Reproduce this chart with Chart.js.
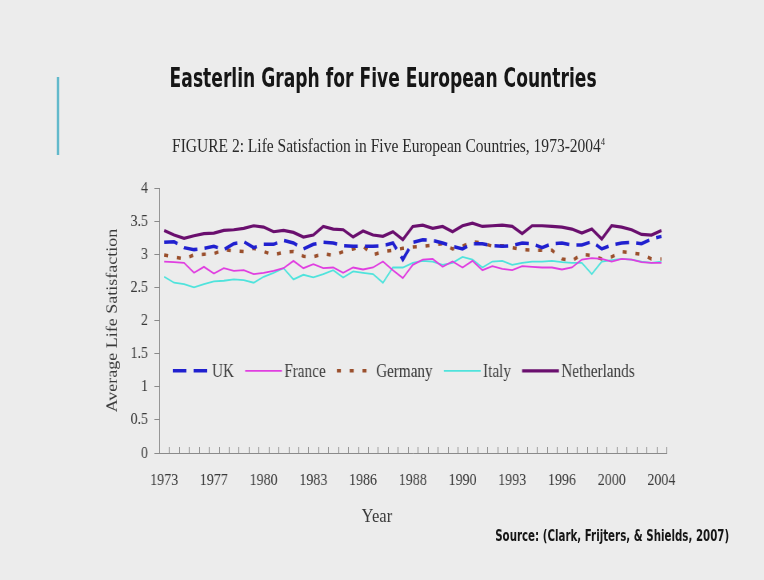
<!DOCTYPE html>
<html>
<head>
<meta charset="utf-8">
<script src="https://cdn.jsdelivr.net/npm/chart.js@4.4.1/dist/chart.umd.min.js"></script>
<style>
  html, body { margin: 0; padding: 0; background: #ececec; width: 764px; height: 580px; overflow: hidden; }
  /* the slide is laid out on a wider sheet and squeezed horizontally */
  #slide { position: absolute; left: 0; top: 0; width: 955px; height: 580px; transform: scaleX(0.8); transform-origin: 0 0; }
  #accent { position: absolute; left: 71px; top: 77px; width: 3px; height: 78px; background: #62b9cb; }
  .txt { position: absolute; white-space: nowrap; line-height: 1; }
  #title { top: 63px; font: bold 26px "DejaVu Sans Condensed", "DejaVu Sans"; color: #161616; }
  #subtitle { top: 136px; font: 18px "Liberation Serif"; color: #2a2a2a; }
  #subtitle span { font-size: 10px; position: relative; top: -7px; }
  #xtitle { top: 506px; font: 18px "Liberation Serif"; color: #3a3a3a; }
  #source { top: 527px; font: bold 15px "DejaVu Sans Condensed", "DejaVu Sans"; color: #161616; }
  canvas { position: absolute; left: 0; top: 0; }
</style>
</head>
<body>
<div id="slide">
  <div id="accent"></div>
  <div id="title" class="txt">Easterlin Graph for Five European Countries</div>
  <div id="subtitle" class="txt">FIGURE 2: Life Satisfaction in Five European Countries, 1973-2004<span>4</span></div>
  <canvas id="chart" width="955" height="580" style="width:955px;height:580px"></canvas>
  <div id="xtitle" class="txt">Year</div>
  <div id="source" class="txt">Source: (Clark, Frijters, &amp; Shields, 2007)</div>
</div>
<script>
// Survey waves (one category per wave); only every fifth wave is labelled.
const waveYears = [
  '1973','1973','1974','1975','1976','1977','1977','1978','1978','1979',
  '1980','1980','1981','1981','1982','1983','1983','1984','1984','1985',
  '1986','1986','1987','1987','1987','1988','1988','1989','1989','1989',
  '1990','1990','1991','1991','1992','1993','1993','1994','1994','1995',
  '1996','1997','1998','1998','1999','2000','2001','2002','2002','2003',
  '2004'
];
const labelEvery = 5;
const yTickValues = [0, 0.5, 1, 1.5, 2, 2.5, 3, 3.5, 4];

const uk = [
  3.18,3.19,3.10,3.07,3.09,3.12,3.07,3.16,3.19,3.10,
  3.15,3.15,3.21,3.17,3.08,3.15,3.18,3.17,3.13,3.12,
  3.12,3.12,3.13,3.17,2.92,3.18,3.22,3.21,3.17,3.12,
  3.08,3.16,3.16,3.13,3.12,3.13,3.17,3.16,3.10,3.16,
  3.17,3.14,3.14,3.19,3.08,3.14,3.17,3.18,3.16,3.23,
  3.27
];
const france = [
  2.89,2.88,2.87,2.72,2.81,2.71,2.79,2.75,2.76,2.70,
  2.72,2.75,2.79,2.90,2.79,2.85,2.79,2.80,2.72,2.80,
  2.77,2.80,2.89,2.76,2.64,2.84,2.92,2.93,2.81,2.89,
  2.80,2.90,2.76,2.82,2.78,2.76,2.82,2.81,2.80,2.80,
  2.77,2.80,2.92,2.94,2.93,2.89,2.93,2.92,2.88,2.87,
  2.87
];
const germany = [
  2.99,2.96,2.93,2.99,3.00,3.01,3.07,3.05,3.04,3.09,
  3.04,2.99,3.03,3.04,2.97,2.96,3.01,2.98,3.04,3.08,
  3.12,2.99,3.04,3.06,3.09,3.11,3.12,3.14,3.16,3.08,
  3.12,3.19,3.17,3.12,3.13,3.10,3.07,3.06,3.06,3.06,
  2.93,2.90,3.00,2.98,2.93,2.96,3.04,3.02,3.00,2.93,
  2.93
];
const italy = [
  2.66,2.57,2.55,2.50,2.55,2.59,2.60,2.62,2.61,2.57,
  2.66,2.72,2.79,2.62,2.69,2.65,2.70,2.76,2.65,2.74,
  2.72,2.70,2.57,2.80,2.80,2.87,2.90,2.89,2.84,2.87,
  2.96,2.92,2.80,2.89,2.90,2.84,2.87,2.89,2.89,2.90,
  2.88,2.87,2.87,2.70,2.89,2.91,2.93,2.92,2.89,2.87,
  2.89
];
const netherlands = [
  3.36,3.29,3.24,3.28,3.31,3.32,3.36,3.37,3.39,3.43,
  3.41,3.34,3.36,3.33,3.26,3.29,3.42,3.38,3.37,3.26,
  3.35,3.29,3.27,3.34,3.22,3.42,3.44,3.39,3.42,3.34,
  3.43,3.47,3.42,3.43,3.44,3.42,3.31,3.43,3.43,3.42,
  3.41,3.38,3.32,3.38,3.23,3.43,3.41,3.37,3.30,3.29,
  3.36
];

const axisGray = '#8a8a8a';
const labelColor = '#3a3a3a';
const serif = 'Liberation Serif';

// fit a text block to a given left edge and width
function placeText(id, left, width) {
  const el = document.getElementById(id);
  const w = el.offsetWidth;
  el.style.left = left + 'px';
  el.style.transformOrigin = '0 0';
  el.style.transform = 'scaleX(' + (width / w) + ')';
}
placeText('title', 212, 534);
placeText('subtitle', 215, 541);
placeText('xtitle', 452, 38);
placeText('source', 619, 292);

// short tick marks standing up from the category axis at wave boundaries
const categoryTicks = {
  id: 'categoryTicks',
  afterDraw(chart) {
    const xs = chart.scales.x;
    const n = xs.ticks.length;
    const step = (xs.right - xs.left) / n;
    const bottom = chart.chartArea.bottom;
    const ctx = chart.ctx;
    ctx.save();
    ctx.strokeStyle = axisGray;
    ctx.lineWidth = 1;
    ctx.beginPath();
    for (let k = 0; k <= n; k++) {
      const x = Math.round(xs.getPixelForValue(0) - step / 2 + k * step) + 0.5;
      ctx.moveTo(x, bottom);
      ctx.lineTo(x, bottom - 6);
    }
    ctx.stroke();
    ctx.restore();
  }
};

// legend drawn inside the plot, on the 1.25 level
const innerLegend = {
  id: 'innerLegend',
  afterDraw(chart) {
    const ctx = chart.ctx;
    const y = chart.scales.y.getPixelForValue(1.24);
    let x = chart.chartArea.left + 17;
    const sample = 46;
    ctx.save();
    ctx.font = '19px "' + serif + '"';
    ctx.textBaseline = 'middle';
    ctx.fillStyle = labelColor;
    chart.data.datasets.forEach(ds => {
      ctx.beginPath();
      ctx.setLineDash(ds.borderDash || []);
      ctx.lineWidth = ds.borderWidth;
      ctx.strokeStyle = ds.borderColor;
      ctx.lineCap = 'butt';
      ctx.moveTo(x, y);
      ctx.lineTo(x + sample, y);
      ctx.stroke();
      ctx.setLineDash([]);
      ctx.fillText(ds.label, x + sample + 3, y + 1);
      x += sample + 3 + ctx.measureText(ds.label).width + 14;
    });
    ctx.restore();
  }
};

new Chart(document.getElementById('chart'), {
  type: 'line',
  data: {
    labels: waveYears,
    datasets: [
      { label: 'UK', data: uk, borderColor: '#2020cf', borderWidth: 3.5, borderDash: [17, 9] },
      { label: 'France', data: france, borderColor: '#e03ee0', borderWidth: 1.8 },
      { label: 'Germany', data: germany, borderColor: '#9a4f2c', borderWidth: 3.5, borderDash: [5, 11] },
      { label: 'Italy', data: italy, borderColor: '#4fe3dc', borderWidth: 1.8 },
      { label: 'Netherlands', data: netherlands, borderColor: '#6a0f6e', borderWidth: 3.2 }
    ]
  },
  options: {
    responsive: false,
    animation: false,
    devicePixelRatio: 1,
    layout: { padding: { left: 112, right: 122, top: 188, bottom: 50 } },
    elements: { point: { radius: 0 }, line: { tension: 0, borderCapStyle: 'butt' } },
    plugins: { legend: { display: false }, tooltip: { enabled: false } },
    scales: {
      x: {
        type: 'category',
        offset: true,
        grid: { display: false, drawTicks: false },
        border: { display: true, color: axisGray, width: 1 },
        ticks: {
          autoSkip: false, maxRotation: 0, minRotation: 0, padding: 17,
          color: labelColor, font: { family: serif, size: 17.5 },
          callback: (v, i) => (i % labelEvery === 0 ? waveYears[i] : '')
        },
        afterFit: s => { s.height = 77; }
      },
      y: {
        min: 0, max: 4,
        afterBuildTicks: s => { s.ticks = yTickValues.map(v => ({ value: v })); },
        grid: { drawOnChartArea: false, tickLength: 6, color: axisGray },
        border: { display: true, color: axisGray, width: 1 },
        ticks: {
          padding: 8, color: labelColor, font: { family: serif, size: 17.5 },
          callback: v => String(v)
        },
        title: {
          display: true, text: 'Average Life Satisfaction', color: labelColor,
          font: { family: serif, size: 18 }, padding: { top: 18, bottom: 0 }
        },
        afterFit: s => { s.width = 87; }
      }
    }
  },
  plugins: [categoryTicks, innerLegend]
});
</script>
</body>
</html>
